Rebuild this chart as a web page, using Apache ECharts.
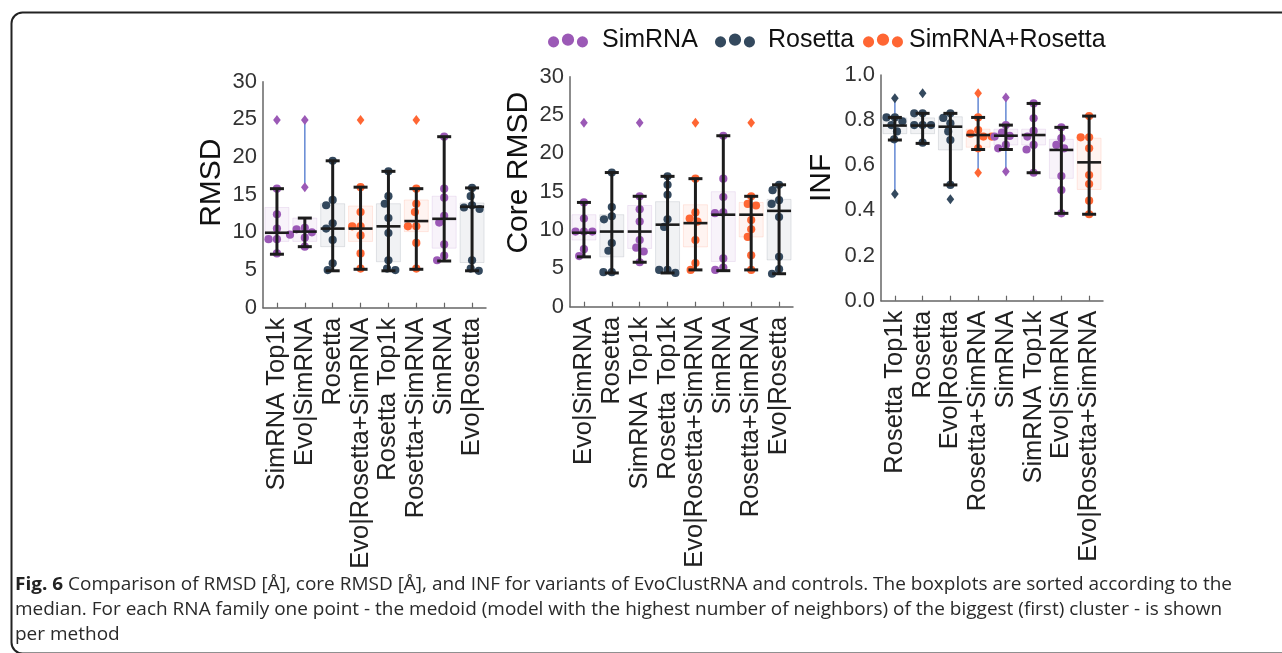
<!DOCTYPE html>
<html>
<head>
<meta charset="utf-8">
<script src="https://cdn.jsdelivr.net/npm/echarts@6/dist/echarts.min.js"></script>
<style>
  html, body { margin: 0; padding: 0; background: #fff; }
  #chart { width: 1282px; height: 653px; }
</style>
</head>
<body>
<div id="chart"></div>
<script>
// legend groups
const groupNames = { S: 'SimRNA', R: 'Rosetta', O: 'SimRNA+Rosetta' };
const groupColors = { S: '#9b59b6', R: '#34495e', O: '#ff6633' };

// ---- panel 1: RMSD ----
const rmsdCats = ['SimRNA Top1k', 'Evo|SimRNA', 'Rosetta', 'Evo|Rosetta+SimRNA', 'Rosetta Top1k', 'Rosetta+SimRNA', 'SimRNA', 'Evo|Rosetta'];
const rmsdGroup = ['S', 'S', 'R', 'O', 'R', 'O', 'S', 'R'];
const rmsdPoints = [
    [15.8, 12.4, 10.5, 9.1, 9.1, 7.2],
    [10.6, 10.4, 10.0, 9.7, 9.3, 8.1],
    [19.5, 14.3, 13.6, 11.2, 10.5, 9.0, 5.9, 5.0],
    [16.0, 12.7, 10.8, 10.8, 9.6, 7.2, 5.2],
    [18.1, 14.8, 13.8, 11.9, 9.9, 6.3, 5.2, 5.0],
    [15.8, 13.8, 12.7, 10.8, 10.8, 8.6, 5.2],
    [22.7, 15.8, 14.6, 12.2, 11.3, 8.4, 6.9, 6.3],
    [15.9, 14.8, 13.6, 13.3, 13.1, 6.3, 5.2, 4.9]
];
const rmsdFliers = [[24.9], [24.9, 16.0], [], [24.9], [], [24.9], [], []];
const rmsdMedian = [9.95, 10.1, 10.5, 10.5, 10.8, 11.5, 11.8, 13.4];
const rmsdBox = [[8.8, 13.3], [8.8, 11.9], [8.1, 13.8], [8.8, 13.5], [6.1, 13.8], [10.1, 14.3], [7.9, 14.8], [6.0, 13.9]];
const rmsdWhisker = [[7.1, 15.8], [8.1, 11.9], [4.9, 19.5], [5.1, 16.0], [4.9, 18.1], [5.1, 15.8], [6.2, 22.7], [4.9, 15.9]];
const rmsdBlue = [null, [16.0, 24.9], null, null, null, null, null, null];

// ---- panel 2: Core RMSD ----
const coreCats = ['Evo|SimRNA', 'Rosetta', 'SimRNA Top1k', 'Rosetta Top1k', 'Evo|Rosetta+SimRNA', 'SimRNA', 'Rosetta+SimRNA', 'Evo|Rosetta'];
const coreGroup = ['S', 'R', 'S', 'R', 'O', 'S', 'O', 'R'];
const corePoints = [
    [13.6, 11.5, 9.8, 9.8, 9.8, 7.5, 6.6],
    [17.5, 13.0, 11.8, 11.4, 8.3, 7.3, 4.5, 4.5],
    [14.4, 12.7, 11.1, 8.7, 7.7, 7.2, 5.8],
    [17.0, 15.9, 14.6, 11.4, 10.4, 4.8, 4.8, 4.4],
    [16.7, 12.3, 11.5, 11.1, 8.7, 5.7, 4.8],
    [22.3, 16.7, 14.3, 12.3, 12.2, 6.3, 5.1, 4.8],
    [14.4, 13.4, 13.2, 11.3, 10.1, 9.1, 6.7, 4.8],
    [15.9, 15.2, 13.9, 13.4, 11.7, 6.5, 4.9, 4.3]
];
const coreFliers = [[24.0], [], [24.0], [], [24.0], [], [24.0], []];
const coreMedian = [9.65, 9.8, 9.8, 10.7, 10.9, 12.0, 12.0, 12.5];
const coreBox = [[8.7, 12.0], [6.5, 12.0], [7.6, 13.2], [4.8, 13.7], [7.8, 13.3], [5.9, 15.0], [9.1, 13.6], [6.1, 14.0]];
const coreWhisker = [[6.5, 13.6], [4.4, 17.5], [5.8, 14.4], [4.4, 17.0], [4.8, 16.7], [4.7, 22.3], [4.8, 14.4], [4.3, 15.9]];
const coreBlue = [null, null, null, null, null, null, null, null];

// ---- panel 3: INF ----
const infCats = ['Rosetta Top1k', 'Rosetta', 'Evo|Rosetta', 'Rosetta+SimRNA', 'SimRNA', 'SimRNA Top1k', 'Evo|SimRNA', 'Evo|Rosetta+SimRNA'];
const infGroup = ['R', 'R', 'R', 'O', 'S', 'S', 'S', 'O'];
const infPoints = [
    [0.812, 0.812, 0.795, 0.778, 0.75, 0.715],
    [0.83, 0.83, 0.778, 0.778, 0.778, 0.70],
    [0.83, 0.81, 0.786, 0.75, 0.712, 0.513],
    [0.812, 0.756, 0.74, 0.727, 0.727, 0.675],
    [0.778, 0.745, 0.73, 0.727, 0.69, 0.675],
    [0.874, 0.808, 0.752, 0.727, 0.69, 0.67, 0.567],
    [0.768, 0.72, 0.69, 0.675, 0.552, 0.49, 0.387],
    [0.818, 0.724, 0.724, 0.675, 0.557, 0.517, 0.443, 0.383]
];
const infFliers = [[0.897, 0.473], [0.919], [0.449], [0.919, 0.567], [0.9, 0.572], [], [], []];
const infMedian = [0.776, 0.776, 0.771, 0.734, 0.731, 0.734, 0.668, 0.613];
const infBox = [[0.74, 0.81], [0.74, 0.81], [0.668, 0.815], [0.68, 0.76], [0.69, 0.76], [0.69, 0.76], [0.542, 0.715], [0.493, 0.72]];
const infWhisker = [[0.712, 0.812], [0.697, 0.83], [0.513, 0.83], [0.67, 0.812], [0.67, 0.778], [0.567, 0.874], [0.387, 0.768], [0.383, 0.818]];
const infBlue = [[0.473, 0.897], null, null, [0.567, 0.919], [0.572, 0.9], null, null, null];

const yTicks1 = { min: 0, max: 30, interval: 5 };
const yTicks3 = { min: 0, max: 1, interval: 0.2 };

const captionLines = [
    'Comparison of RMSD [Å], core RMSD [Å], and INF for variants of EvoClustRNA and controls. The boxplots are sorted according to the',
    'median. For each RNA family one point - the medoid (model with the highest number of neighbors) of the biggest (first) cluster - is shown',
    'per method'
];

const FONT = '"Liberation Sans", Arial, sans-serif';

function rgba(hex, a) {
    const n = parseInt(hex.slice(1), 16);
    return `rgba(${n >> 16},${(n >> 8) & 255},${n & 255},${a})`;
}

// simple beeswarm in pixel space
function swarm(ys, d) {
    const placed = [];
    const xs = new Array(ys.length);
    const order = ys.map((y, k) => k).sort((a, b) => ys[a] - ys[b]);
    order.forEach(k => {
        const y = ys[k];
        const near = placed.filter(p => Math.abs(p.y - y) < d);
        const cands = [0];
        near.forEach(p => {
            const dx = Math.sqrt(d * d - (p.y - y) * (p.y - y));
            cands.push(p.x - dx, p.x + dx);
        });
        cands.sort((a, b) => Math.abs(a) - Math.abs(b));
        const x = cands.find(c => near.every(p => (p.x - c) * (p.x - c) + (p.y - y) * (p.y - y) >= d * d - 0.01));
        xs[k] = x;
        placed.push({ x: x, y: y });
    });
    return xs;
}

function makeSeries(idx, cats, group, points, fliers, median, box, whisker, blue) {
    const data = cats.map((c, i) => [i, 0]);
    const base = {
        type: 'custom', xAxisIndex: idx, yAxisIndex: idx, data: data,
        encode: { x: 0, y: 1 }, silent: true, clip: false, animation: false
    };
    const boxSeries = Object.assign({}, base, {
        z: 2,
        renderItem: function (params, api) {
            const i = params.dataIndex;
            const col = groupColors[group[i]];
            const bw = api.size([1, 0])[0] * 0.86;
            const top = api.coord([i, box[i][1]]);
            const bot = api.coord([i, box[i][0]]);
            const children = [{
                type: 'rect',
                shape: { x: top[0] - bw / 2, y: top[1], width: bw, height: bot[1] - top[1] },
                style: { fill: rgba(col, 0.07), stroke: rgba(col, 0.13), lineWidth: 1 }
            }];
            if (blue[i]) {
                const b0 = api.coord([i, blue[i][0]]);
                const b1 = api.coord([i, blue[i][1]]);
                children.push({
                    type: 'line', shape: { x1: b0[0], y1: b0[1], x2: b1[0], y2: b1[1] },
                    style: { stroke: '#6d8fd6', lineWidth: 1.6 }
                });
            }
            return { type: 'group', children: children };
        }
    });
    const pointSeries = Object.assign({}, base, {
        z: 3,
        renderItem: function (params, api) {
            const i = params.dataIndex;
            const col = groupColors[group[i]];
            const cx = api.coord([i, 0])[0];
            const ys = points[i].map(v => api.coord([i, v])[1]);
            const xs = swarm(ys, 8.4);
            const children = ys.map((y, k) => ({
                type: 'circle', shape: { cx: cx + xs[k], cy: y, r: 4.1 },
                style: { fill: col, opacity: 1 }
            }));
            fliers[i].forEach(v => {
                const y = api.coord([i, v])[1];
                children.push({
                    type: 'polygon',
                    shape: { points: [[cx, y - 5], [cx + 3.8, y], [cx, y + 5], [cx - 3.8, y]] },
                    style: { fill: col, opacity: 1 }
                });
            });
            return { type: 'group', children: children };
        }
    });
    const whiskerSeries = Object.assign({}, base, {
        z: 4,
        renderItem: function (params, api) {
            const i = params.dataIndex;
            const bw = api.size([1, 0])[0] * 0.86;
            const lo = api.coord([i, whisker[i][0]]);
            const hi = api.coord([i, whisker[i][1]]);
            const md = api.coord([i, median[i]]);
            const cap = 14;
            const st = { stroke: '#1c1c1c', lineWidth: 3 };
            return {
                type: 'group', children: [
                    { type: 'line', shape: { x1: lo[0], y1: lo[1], x2: hi[0], y2: hi[1] }, style: st },
                    { type: 'line', shape: { x1: lo[0] - cap / 2, y1: lo[1], x2: lo[0] + cap / 2, y2: lo[1] }, style: st },
                    { type: 'line', shape: { x1: hi[0] - cap / 2, y1: hi[1], x2: hi[0] + cap / 2, y2: hi[1] }, style: st },
                    { type: 'line', shape: { x1: md[0] - bw / 2, y1: md[1], x2: md[0] + bw / 2, y2: md[1] }, style: { stroke: '#1c1c1c', lineWidth: 2.6 } }
                ]
            };
        }
    });
    return [boxSeries, pointSeries, whiskerSeries];
}

function xAxisFor(idx, cats) {
    return {
        type: 'category', gridIndex: idx, data: cats, boundaryGap: true,
        axisLine: { lineStyle: { color: '#666', width: 1.5 } },
        axisTick: { show: true, inside: true, length: 5, alignWithLabel: true, lineStyle: { color: '#666', width: 1.2 } },
        axisLabel: { rotate: 90, margin: 10, fontSize: 25.5, color: '#222', fontFamily: FONT, interval: 0 },
        splitLine: { show: false }
    };
}

function yAxisFor(idx, name, ticks, gap, shift, fmt) {
    return {
        type: 'value', gridIndex: idx, min: ticks.min, max: ticks.max, interval: ticks.interval,
        name: name, nameLocation: 'middle', nameGap: gap, nameRotate: 90,
        nameTextStyle: { fontSize: 30, color: '#111', fontFamily: FONT, padding: [0, 0, 0, shift * 2] },
        axisLine: { show: true, lineStyle: { color: '#666', width: 1.5 } },
        axisTick: { show: false },
        axisLabel: { fontSize: 22, color: '#333', margin: 6, fontFamily: FONT, formatter: fmt },
        splitLine: { show: false }
    };
}

// legend icon: three dots
const dotsIcon = 'path://M0,8a5,5 0 1,0 10,0a5,5 0 1,0 -10,0Z M12.5,6a5.5,5.5 0 1,0 11,0a5.5,5.5 0 1,0 -11,0Z M26,8a5,5 0 1,0 10,0a5,5 0 1,0 -10,0Z';

function legendAt(left, name, pad) {
    return {
        left: left, top: 23,
        itemWidth: 40, itemHeight: 15,
        icon: dotsIcon,
        textStyle: { fontSize: 25, color: '#111', fontFamily: FONT, padding: [0, 0, 0, pad] },
        data: [name],
        selectedMode: false
    };
}

// caption scale so it fits the reference line width
const mctx = document.createElement('canvas').getContext('2d');
mctx.font = 'bold 18px "Open Sans"';
let capW = mctx.measureText('Fig. 6 ').width;
mctx.font = '18px "Open Sans"';
capW += mctx.measureText(captionLines[0]).width;
const capScale = 1217 / capW;

let chart = echarts.init(document.getElementById('chart'), null, { renderer: 'canvas' });

let option = {
    backgroundColor: '#fff',
    animation: false,
    legend: [
        legendAt(543, 'SimRNA', 9),
        legendAt(710, 'Rosetta', 8),
        legendAt(858, 'SimRNA+Rosetta', 1)
    ],
    grid: [
        { left: 263, top: 81.7, width: 223, height: 226, outerBoundsMode: 'none' },
        { left: 570, top: 76.7, width: 223, height: 230, outerBoundsMode: 'none' },
        { left: 881, top: 75, width: 222, height: 225.7, outerBoundsMode: 'none' }
    ],
    xAxis: [xAxisFor(0, rmsdCats), xAxisFor(1, coreCats), xAxisFor(2, infCats)],
    yAxis: [
        yAxisFor(0, 'RMSD', yTicks1, 36, 12, null),
        yAxisFor(1, 'Core RMSD', yTicks1, 36, 19, null),
        yAxisFor(2, 'INF', yTicks3, 44, 10, v => v.toFixed(1))
    ],
    graphic: [
        {
            type: 'rect', left: 9, top: 10, silent: true,
            shape: { width: 1300, height: 641, r: 11 },
            style: { fill: 'none', stroke: '#222', lineWidth: 2 }
        },
        {
            type: 'text', left: 15, top: 576, scaleX: capScale, silent: true,
            style: {
                text: '{b|Fig. 6} ' + captionLines[0],
                font: '18px "Open Sans"', fill: '#2a2a2a',
                rich: { b: { fontWeight: 'bold', fontSize: 18, fontFamily: 'Open Sans', fill: '#222' } }
            }
        },
        {
            type: 'text', left: 15, top: 601, scaleX: capScale, silent: true,
            style: { text: captionLines[1], font: '18px "Open Sans"', fill: '#2a2a2a' }
        },
        {
            type: 'text', left: 15, top: 626, scaleX: capScale, silent: true,
            style: { text: captionLines[2], font: '18px "Open Sans"', fill: '#2a2a2a' }
        }
    ],
    series: [].concat(
        makeSeries(0, rmsdCats, rmsdGroup, rmsdPoints, rmsdFliers, rmsdMedian, rmsdBox, rmsdWhisker, rmsdBlue),
        makeSeries(1, coreCats, coreGroup, corePoints, coreFliers, coreMedian, coreBox, coreWhisker, coreBlue),
        makeSeries(2, infCats, infGroup, infPoints, infFliers, infMedian, infBox, infWhisker, infBlue),
        ['S', 'R', 'O'].map(g => ({
            name: groupNames[g], type: 'scatter', xAxisIndex: 0, yAxisIndex: 0, data: [],
            itemStyle: { color: groupColors[g], opacity: 1 }
        }))
    )
};

chart.setOption(option);
</script>
</body>
</html>
